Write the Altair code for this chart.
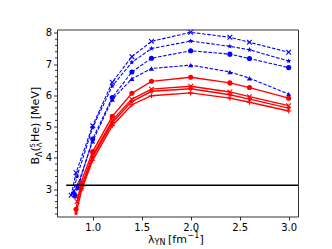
import altair as alt
import pandas as pd
import numpy as np

# ---------------- data ----------------
lam_common = [1.0, 1.2, 1.4, 1.6, 2.0, 2.4, 2.6, 3.0]

blue_x_lam = [0.78, 0.83] + lam_common
blue_x_B = [2.80, 3.52, 5.03, 6.42, 7.24, 7.73, 8.02, 7.86, 7.70, 7.38]

blue_star_lam = [0.80, 0.84] + lam_common
blue_star_B = [2.88, 3.40, 4.97, 6.30, 7.06, 7.50, 7.74, 7.57, 7.46, 7.10]

blue_circ_lam = [0.82, 0.85] + lam_common
blue_circ_B = [2.78, 3.05, 4.60, 5.93, 6.75, 7.19, 7.43, 7.32, 7.18, 6.89]

blue_tri_lam = [0.81, 0.85] + lam_common
blue_tri_B = [2.92, 3.15, 4.53, 5.87, 6.53, 6.86, 6.97, 6.75, 6.55, 6.04]

red_circ_lam = [0.83, 0.88] + lam_common
red_circ_B = [2.35, 3.20, 4.20, 5.33, 6.07, 6.45, 6.58, 6.40, 6.25, 5.91]

red_x_lam = [0.84, 0.88] + lam_common
red_x_B = [2.60, 3.05, 4.08, 5.20, 5.88, 6.20, 6.29, 6.11, 5.96, 5.67]

red_star_lam = [0.83, 0.89] + lam_common
red_star_B = [2.22, 3.00, 4.02, 5.13, 5.80, 6.13, 6.21, 6.02, 5.88, 5.59]

red_plus_lam = [0.85, 0.90] + lam_common
red_plus_B = [2.75, 3.10, 3.92, 5.03, 5.70, 5.99, 6.08, 5.91, 5.78, 5.50]

exp_lam = [0.73, 3.10]
exp_B = [3.12, 3.12]

x_ticks = [1.0, 1.5, 2.0, 2.5, 3.0]
y_ticks = [3, 4, 5, 6, 7, 8]

# ---------------- style ----------------
XDOM = [0.636, 3.095]
YDOM = [2.12, 8.11]
W, H = 241, 187
FONT = "DejaVu Sans"

BLUE = "#0000ff"
RED = "#ff0000"

ang = [(-90 + 36 * k) * np.pi / 180 for k in range(10)]
rad = [1.0 if k % 2 == 0 else 0.42 for k in range(10)]
STAR = "M" + "L".join(f"{r*np.cos(a):.3f},{r*np.sin(a):.3f}" for r, a in zip(rad, ang)) + "Z"
XPATH = "M-1,-1L1,1M-1,1L1,-1"
PLUS = "M-1,0L1,0M0,-1L0,1"


def xenc():
    return alt.X("lam:Q", scale=alt.Scale(domain=XDOM, nice=False, zero=False),
                 axis=alt.Axis(values=x_ticks, format=".1f", title=None))


def yenc(field="B:Q"):
    return alt.Y(field, scale=alt.Scale(domain=YDOM, nice=False, zero=False),
                 axis=alt.Axis(values=y_ticks, format="d", title=None))


layers = []


def series(lam, B, color, dash, width, shape, filled, size):
    df = pd.DataFrame({"lam": lam, "B": B})
    base = alt.Chart(df)
    line_kw = dict(color=color, strokeWidth=width, clip=True)
    if dash:
        line_kw["strokeDash"] = dash
    layers.append(base.mark_line(**line_kw).encode(x=xenc(), y=yenc()))
    pt_kw = dict(shape=shape, filled=filled, size=size, color=color, opacity=1, clip=True)
    if not filled:
        pt_kw["strokeWidth"] = 1.1
    layers.append(base.mark_point(**pt_kw).encode(x=xenc(), y=yenc()))


series(blue_x_lam, blue_x_B, BLUE, [3.5, 1.6], 1.1, XPATH, False, 22)
series(blue_star_lam, blue_star_B, BLUE, [3.5, 1.6], 1.1, STAR, True, 30)
series(blue_circ_lam, blue_circ_B, BLUE, [3.5, 1.6], 1.1, "circle", True, 26)
series(blue_tri_lam, blue_tri_B, BLUE, [3.5, 1.6], 1.1, "triangle-up", True, 26)
series(red_circ_lam, red_circ_B, RED, None, 1.4, "circle", True, 26)
series(red_x_lam, red_x_B, RED, None, 1.4, XPATH, False, 22)
series(red_star_lam, red_star_B, RED, None, 1.4, STAR, True, 30)
series(red_plus_lam, red_plus_B, RED, None, 1.4, PLUS, False, 26)

# experimental value line
layers.append(alt.Chart(pd.DataFrame({"lam": exp_lam, "B": exp_B}))
              .mark_line(color="black", strokeWidth=1.4, clip=True)
              .encode(x=xenc(), y=yenc()))

# minor ticks on y axis
minor = [round(v, 1) for v in np.arange(2.2, 8.01, 0.2) if abs(v - round(v)) > 1e-6]
layers.append(alt.Chart(pd.DataFrame({"B": minor}))
              .mark_rule(color="black", strokeWidth=0.8)
              .encode(y=yenc(), x=alt.value(-2), x2=alt.value(0)))

# axis titles built from text pieces (sub/superscripts)
one = pd.DataFrame({"a": [0]})


def txt(t, x, y, size, angle=0, dy=0):
    kw = dict(text=t, font=FONT, fontSize=size, color="black", align="left",
              baseline="alphabetic", dy=dy)
    if angle:
        kw["angle"] = angle
    return alt.Chart(one).mark_text(**kw).encode(x=alt.value(x), y=alt.value(y))


# x title: λ_YN [fm^-1]
xt_y = 213
layers.append(txt("λ", 91, xt_y, 11))
layers.append(txt("YN", 97.5, xt_y, 8, dy=2.5))
layers.append(txt("[fm", 111, xt_y, 11))
layers.append(txt("−1", 130.5, xt_y, 8, dy=-4.5))
layers.append(txt("]", 142.5, xt_y, 11))

# y title: B_Λ(^5_Λ He) [MeV], rotated
yx = -18
layers.append(txt("B", yx, 135, 11, angle=270))
layers.append(txt("Λ", yx + 2.5, 127.5, 8, angle=270))
layers.append(txt("(", yx, 122, 11, angle=270))
layers.append(txt("5", yx - 4.5, 118, 7, angle=270))
layers.append(txt("Λ", yx + 2.5, 118, 7.5, angle=270))
layers.append(txt("He) [MeV]", yx, 112.5, 11, angle=270))

chart = alt.layer(*layers).properties(
    width=W, height=H,
    autosize=alt.AutoSizeParams(type="none"),
    padding={"left": 49, "top": 21.5, "right": 20, "bottom": 30},
).configure_view(
    stroke="#333333", strokeWidth=1
).configure_axis(
    domain=False, grid=False, ticks=True, tickColor="black", tickSize=3.5,
    tickWidth=0.8, labelFont=FONT, labelFontSize=10, labelColor="black",
    labelPadding=2,
)

chart.save("out.html", embed_options={"renderer": "svg", "actions": False})
